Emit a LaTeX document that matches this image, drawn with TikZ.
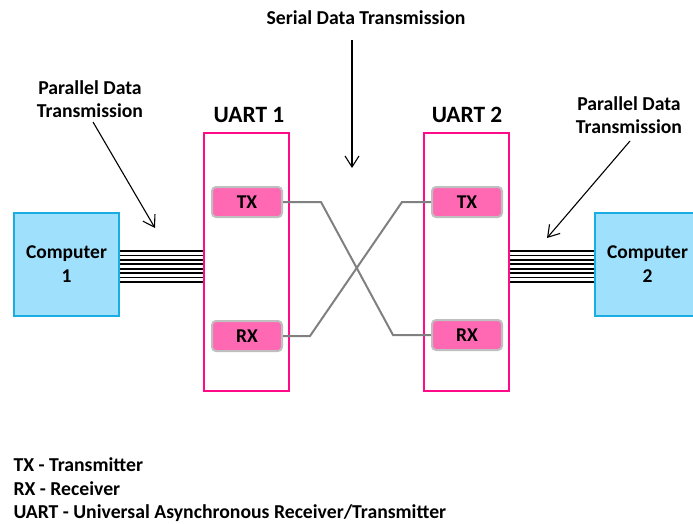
\documentclass[tikz,border=0pt]{standalone}
\usepackage{fontspec}
\setmainfont{Carlito}
\usetikzlibrary{arrows.meta}
\definecolor{compblue}{HTML}{9FE1FC}
\definecolor{compedge}{HTML}{1AADE4}
\definecolor{uartpink}{HTML}{FF0B8A}
\definecolor{portpink}{HTML}{FF69B4}
\tikzset{
  comp/.style={draw=compedge,fill=compblue,line width=2pt,minimum width=105pt,
    minimum height=103pt,align=center,font=\bfseries\fontsize{19.5}{24}\selectfont},
  uart/.style={draw=uartpink,line width=2pt,minimum width=85pt,minimum height=258pt},
  port/.style={draw=black!25,fill=portpink,line width=2pt,rounded corners=4pt,
    minimum width=70pt,minimum height=30pt,font=\bfseries\fontsize{19.5}{22}\selectfont},
  wire/.style={draw=black!50,line width=2pt},
  lbl/.style={font=\bfseries\fontsize{19.7}{23}\selectfont,align=center},
  pointer/.style={-{Straight Barb[length=11pt,width=14pt]},line width=1.1pt}
}
\begin{document}
\begin{tikzpicture}[x=1pt,y=-1pt]
    \useasboundingbox (0,0) rectangle (693,523);
    \clip (0,0) rectangle (693,523);
    % computers and UARTs
    \node[comp] (comp1) at (66.5,264.5) {Computer\\1};
    \node[comp] (comp2) at (647.5,264.5) {Computer\\2};
    \node[uart] (uart1) at (246.5,262) {};
    \node[uart] (uart2) at (466.5,262) {};
    \node[font=\bfseries\fontsize{23.4}{26}\selectfont] (name1) at (249,115) {UART 1};
    \node[font=\bfseries\fontsize{23.4}{26}\selectfont] (name2) at (467,115) {UART 2};
    \node[port] (tx1) at (247,202) {TX};
    \node[port] (rx1) at (247,336) {RX};
    \node[port] (tx2) at (467,202) {TX};
    \node[port] (rx2) at (467,335) {RX};
    % crossed serial wires
    \draw[wire] (tx1.east) -- (321,202) -- (393,335) -- (rx2.west);
    \draw[wire] (rx1.east) -- (310,336) -- (402,202) -- (tx2.west);
    % parallel buses
    \foreach \i in {0,...,7} {
        \draw[line width=1.6pt] (comp1.east |- 0,251+4.43*\i) -- (uart1.west |- 0,251+4.43*\i);
        \draw[line width=1.6pt] (uart2.east |- 0,251+4.43*\i) -- (comp2.west |- 0,251+4.43*\i);
    }
    % labels and pointers
    \node[lbl] (serial) at (366,18) {Serial Data Transmission};
    \node[lbl] (par1) at (90,99) {Parallel Data\\Transmission};
    \node[lbl] (par2) at (629,115) {Parallel Data\\Transmission};
    \coordinate (sertip) at (352,168);
    \coordinate (par1tip) at (155,228);
    \coordinate (par2tip) at (547,238);
    \draw[pointer] (352,40) -- (sertip);
    \draw[pointer] (93,122) -- (par1tip);
    \draw[pointer] (630,141) -- (par2tip);
    % legend
    \node[anchor=west,lbl] (leg1) at (10,465) {TX - Transmitter};
    \node[anchor=west,lbl] (leg2) at (10,489) {RX - Receiver};
    \node[anchor=west,lbl] (leg3) at (10,513) {UART - Universal Asynchronous Receiver/Transmitter};
\end{tikzpicture}
\end{document}
